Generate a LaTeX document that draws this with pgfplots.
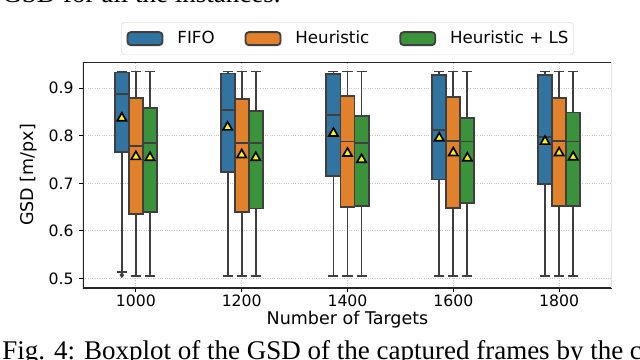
\documentclass[border=0pt]{standalone}
\usepackage{fontspec}
\setmainfont{DejaVu Sans}
\newfontfamily\capfont{Liberation Serif}
\usepackage{pgfplots}
\pgfplotsset{compat=1.18}
\usepgfplotslibrary{statistics}

\definecolor{cfifo}{HTML}{3274A1}
\definecolor{cheur}{HTML}{E1812C}
\definecolor{cls}{HTML}{3A923A}
\definecolor{cedge}{HTML}{3F3F3F}

\pgfplotsset{
  bx/.style={draw=cedge, line width=1.1pt, solid, forget plot,
    mark=diamond*, mark size=1.4pt, mark options={fill=cedge, draw=cedge, line width=0.5pt},
    boxplot/box extend=0.133, boxplot/whisker extend=0.095},
  fifo/.style={bx, fill=cfifo},
  heur/.style={bx, fill=cheur},
  hls/.style={bx, fill=cls},
  patch/.style={legend image code/.code={\draw[##1] (0pt,-3.9pt) rectangle (21pt,3.9pt);}},
}

\begin{document}
\begin{tikzpicture}[x=1pt,y=1pt]
\path[use as bounding box] (0,0) rectangle (384,215.4);
\clip (0,0) rectangle (384,215.4);

% cut-off text of the page around the figure
\node[anchor=base east, inner sep=0pt, font=\capfont\fontsize{16.2}{18}\selectfont] at (168.6,213.9) {GSD for all the instances.};
\node[anchor=base west, inner sep=0pt, font=\capfont\fontsize{16.2}{18}\selectfont] at (1.2,0) {Fig. 4: Boxplot of the GSD of the captured frames by the c};

\begin{axis}[
  at={(49.8pt,42.6pt)}, anchor=south west,
  scale only axis,
  width=317.4pt, height=135.6pt,
  xmin=-0.5, xmax=4.5,
  ymin=0.48, ymax=0.955,
  xtick={0,1,2,3,4},
  xticklabels={1000,1200,1400,1600,1800},
  ytick={0.5,0.6,0.7,0.8,0.9},
  yticklabels={0.5,0.6,0.7,0.8,0.9},
  xtick pos=bottom, ytick pos=left,
  tick align=outside,
  major tick length=2.1pt,
  tick style={black, line width=0.6pt},
  boxplot/draw direction=y,
  axis line style={draw=none},
  grid=major,
  grid style={densely dotted, gray!45, line width=0.5pt},
  tick label style={font=\fontsize{9.4}{11}\selectfont},
  xticklabel style={yshift=1.5pt},
  /pgf/number format/assume math mode=true,
  xlabel={Number of Targets},
  ylabel={GSD [m/px]},
  label style={font=\fontsize{10.5}{12}\selectfont},
  xlabel style={yshift=4pt},
  legend columns=3,
  legend style={at={(0.5,1.03)}, anchor=south,
    draw=gray!25, rounded corners=2pt, fill=white,
    font=\fontsize{10}{12}\selectfont,
    inner xsep=3pt, inner ysep=5.2pt,
    nodes={inner sep=0pt},
    /tikz/every odd column/.append style={column sep=8.4pt},
    /tikz/every even column/.append style={column sep=18pt}},
]

\addlegendimage{patch, fill=cfifo, draw=cedge, line width=1.1pt}
\addlegendentry{FIFO}
\addlegendimage{patch, fill=cheur, draw=cedge, line width=1.1pt}
\addlegendentry{Heuristic}
\addlegendimage{patch, fill=cls, draw=cedge, line width=1.1pt}
\addlegendentry{Heuristic + LS}

% 1000
\addplot[fifo, boxplot prepared={draw position=-0.133, lower whisker=0.514, lower quartile=0.765, median=0.887, upper quartile=0.933, upper whisker=0.935}] coordinates {(0,0.507)};
\addplot[heur, boxplot prepared={draw position=0, lower whisker=0.505, lower quartile=0.635, median=0.779, upper quartile=0.879, upper whisker=0.935}] coordinates {};
\addplot[hls, boxplot prepared={draw position=0.133, lower whisker=0.505, lower quartile=0.640, median=0.784, upper quartile=0.858, upper whisker=0.935}] coordinates {};
% 1200
\addplot[fifo, boxplot prepared={draw position=0.867, lower whisker=0.505, lower quartile=0.724, median=0.854, upper quartile=0.931, upper whisker=0.935}] coordinates {};
\addplot[heur, boxplot prepared={draw position=1, lower whisker=0.505, lower quartile=0.640, median=0.784, upper quartile=0.877, upper whisker=0.935}] coordinates {};
\addplot[hls, boxplot prepared={draw position=1.133, lower whisker=0.505, lower quartile=0.647, median=0.784, upper quartile=0.852, upper whisker=0.935}] coordinates {};
% 1400
\addplot[fifo, boxplot prepared={draw position=1.867, lower whisker=0.505, lower quartile=0.715, median=0.844, upper quartile=0.930, upper whisker=0.935}] coordinates {};
\addplot[heur, boxplot prepared={draw position=2, lower whisker=0.505, lower quartile=0.651, median=0.788, upper quartile=0.884, upper whisker=0.935}] coordinates {};
\addplot[hls, boxplot prepared={draw position=2.133, lower whisker=0.505, lower quartile=0.653, median=0.784, upper quartile=0.842, upper whisker=0.935}] coordinates {};
% 1600
\addplot[fifo, boxplot prepared={draw position=2.867, lower whisker=0.505, lower quartile=0.708, median=0.812, upper quartile=0.928, upper whisker=0.935}] coordinates {};
\addplot[heur, boxplot prepared={draw position=3, lower whisker=0.505, lower quartile=0.649, median=0.789, upper quartile=0.882, upper whisker=0.935}] coordinates {};
\addplot[hls, boxplot prepared={draw position=3.133, lower whisker=0.505, lower quartile=0.658, median=0.788, upper quartile=0.837, upper whisker=0.935}] coordinates {};
% 1800
\addplot[fifo, boxplot prepared={draw position=3.867, lower whisker=0.505, lower quartile=0.698, median=0.798, upper quartile=0.928, upper whisker=0.935}] coordinates {};
\addplot[heur, boxplot prepared={draw position=4, lower whisker=0.505, lower quartile=0.653, median=0.789, upper quartile=0.880, upper whisker=0.935}] coordinates {};
\addplot[hls, boxplot prepared={draw position=4.133, lower whisker=0.505, lower quartile=0.653, median=0.788, upper quartile=0.849, upper whisker=0.935}] coordinates {};

% means
\addplot[only marks, forget plot, mark=triangle*, mark size=3.2pt,
  mark options={fill=yellow, draw=black, line width=1pt, solid}] coordinates {
  (-0.133,0.837) (0,0.756) (0.133,0.754)
  (0.867,0.818) (1,0.760) (1.133,0.754)
  (1.867,0.805) (2,0.763) (2.133,0.750)
  (2.867,0.795) (3,0.764) (3.133,0.753)
  (3.867,0.788) (4,0.764) (4.133,0.755)
};

\draw[black!85, line width=0.8pt] (rel axis cs:0,1) -- (rel axis cs:0,0) -- (rel axis cs:1,0);
\draw[black!85, line width=0.8pt] (rel axis cs:0,1) -- (rel axis cs:1,1);
\draw[gray!20, line width=0.8pt] (rel axis cs:1,0) -- (rel axis cs:1,1);
\end{axis}
\end{tikzpicture}
\end{document}
